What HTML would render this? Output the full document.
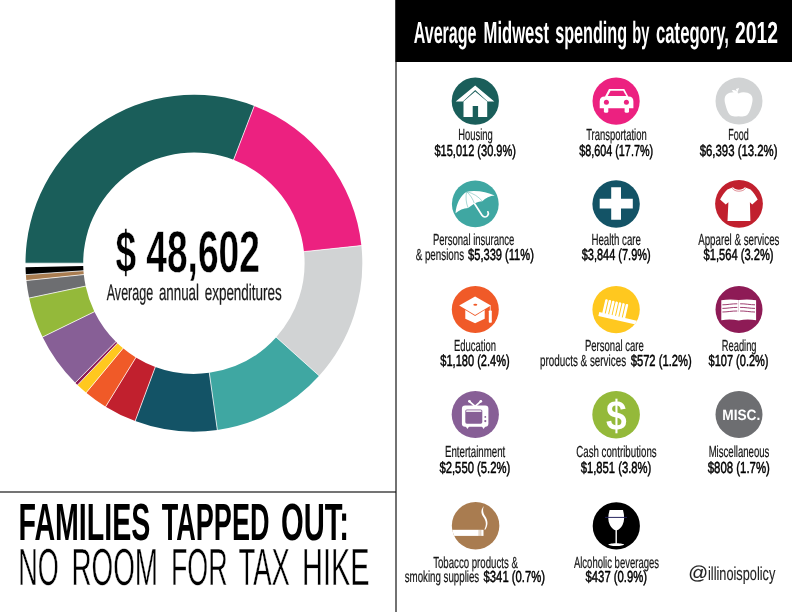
<!DOCTYPE html>
<html lang="en"><head><meta charset="utf-8"><title>Families tapped out: no room for tax hike</title>
<style>html,body{margin:0;padding:0;background:#fff}body{width:792px;height:612px;overflow:hidden}svg{display:block;will-change:transform}</style></head>
<body>
<svg width="792" height="612" viewBox="0 0 792 612" font-family="Liberation Sans, Arial, Helvetica, sans-serif" text-rendering="geometricPrecision">
<rect width="792" height="612" fill="#fff"/>
<g id="donut">
<path d="M25.50 263.20A168.4 168.4 0 0 1 254.25 105.99L233.57 159.85A110.7 110.7 0 0 0 83.20 263.20Z" fill="#1a5e5a"/>
<path d="M254.25 105.99A168.4 168.4 0 0 1 361.38 245.60L303.99 251.63A110.7 110.7 0 0 0 233.57 159.85Z" fill="#ec2180"/>
<path d="M361.38 245.60A168.4 168.4 0 0 1 319.14 375.77L276.23 337.20A110.7 110.7 0 0 0 303.99 251.63Z" fill="#d1d3d4"/>
<path d="M319.14 375.77A168.4 168.4 0 0 1 217.34 429.96L209.31 372.82A110.7 110.7 0 0 0 276.23 337.20Z" fill="#3fa7a2"/>
<path d="M217.34 429.96A168.4 168.4 0 0 1 135.20 421.04L155.31 366.96A110.7 110.7 0 0 0 209.31 372.82Z" fill="#135366"/>
<path d="M135.20 421.04A168.4 168.4 0 0 1 105.66 406.63L135.89 357.49A110.7 110.7 0 0 0 155.31 366.96Z" fill="#c1202e"/>
<path d="M105.66 406.63A168.4 168.4 0 0 1 86.22 392.67L123.11 348.31A110.7 110.7 0 0 0 135.89 357.49Z" fill="#f05a28"/>
<path d="M86.22 392.67A168.4 168.4 0 0 1 77.56 384.95L117.42 343.23A110.7 110.7 0 0 0 123.11 348.31Z" fill="#ffc81f"/>
<path d="M77.56 384.95A168.4 168.4 0 0 1 75.24 382.69L115.90 341.75A110.7 110.7 0 0 0 117.42 343.23Z" fill="#8e1b56"/>
<path d="M75.24 382.69A168.4 168.4 0 0 1 42.54 337.02L94.40 311.73A110.7 110.7 0 0 0 115.90 341.75Z" fill="#875f96"/>
<path d="M42.54 337.02A168.4 168.4 0 0 1 29.15 298.07L85.60 286.12A110.7 110.7 0 0 0 94.40 311.73Z" fill="#94b93a"/>
<path d="M29.15 298.07A168.4 168.4 0 0 1 26.39 280.51L83.79 274.58A110.7 110.7 0 0 0 85.60 286.12Z" fill="#6d6e71"/>
<path d="M26.39 280.51A168.4 168.4 0 0 1 25.89 274.65L83.46 270.73A110.7 110.7 0 0 0 83.79 274.58Z" fill="#a97c50"/>
<path d="M25.89 274.65A168.4 168.4 0 0 1 25.55 267.31L83.23 265.90A110.7 110.7 0 0 0 83.46 270.73Z" fill="#000000"/>
<path d="M83.70 263.20L25.00 263.20M233.39 160.32L254.43 105.52M303.50 251.68L361.87 245.55M275.86 336.87L319.52 376.11M209.24 372.33L217.41 430.46M155.49 366.49L135.03 421.51M136.16 357.06L105.40 407.06M123.43 347.93L85.90 393.06M117.76 342.87L77.21 385.31M116.25 341.39L74.89 383.05M94.85 311.51L42.09 337.24M86.09 286.02L28.66 298.17M84.28 274.53L25.89 280.56M83.96 270.70L25.39 274.69" stroke="#fff" stroke-width="0.75" fill="none"/>
</g>
<text x="115.41" y="271.60" font-size="58.7" font-weight="700" fill="#000" textLength="144.40" lengthAdjust="spacingAndGlyphs" stroke="#fff" stroke-width="0.45" stroke-linejoin="round">$ 48,602</text>
<text><tspan x="106.72" y="300.00" font-size="22.6" font-weight="400" fill="#1a1a1a" textLength="46.49" lengthAdjust="spacingAndGlyphs" stroke="#1a1a1a" stroke-width="0.25" stroke-linejoin="round">Average</tspan> <tspan x="158.88" y="300.00" font-size="22.6" font-weight="400" fill="#1a1a1a" textLength="40.15" lengthAdjust="spacingAndGlyphs" stroke="#1a1a1a" stroke-width="0.25" stroke-linejoin="round">annual</tspan> <tspan x="204.66" y="300.00" font-size="22.6" font-weight="400" fill="#1a1a1a" textLength="77.15" lengthAdjust="spacingAndGlyphs" stroke="#1a1a1a" stroke-width="0.25" stroke-linejoin="round">expenditures</tspan></text>
<rect x="395" y="0" width="2" height="612" fill="#727272"/>
<rect x="0" y="491" width="395" height="2" fill="#747474"/><rect x="395" y="491" width="1" height="2" fill="#3a3a3a"/>
<text><tspan x="18.50" y="540.30" font-size="52.4" font-weight="700" fill="#000" textLength="131.79" lengthAdjust="spacingAndGlyphs">FAMILIES</tspan> <tspan x="161.81" y="540.30" font-size="52.4" font-weight="700" fill="#000" textLength="107.66" lengthAdjust="spacingAndGlyphs">TAPPED</tspan> <tspan x="280.94" y="540.30" font-size="52.4" font-weight="700" fill="#000" textLength="68.09" lengthAdjust="spacingAndGlyphs">OUT:</tspan></text>
<text><tspan x="18.28" y="584.80" font-size="52.3" font-weight="400" fill="#000" textLength="40.55" lengthAdjust="spacingAndGlyphs" stroke="#fff" stroke-width="0.5" stroke-linejoin="round">NO</tspan> <tspan x="71.46" y="584.80" font-size="52.3" font-weight="400" fill="#000" textLength="86.52" lengthAdjust="spacingAndGlyphs" stroke="#fff" stroke-width="0.5" stroke-linejoin="round">ROOM</tspan> <tspan x="170.88" y="584.80" font-size="52.3" font-weight="400" fill="#000" textLength="56.72" lengthAdjust="spacingAndGlyphs" stroke="#fff" stroke-width="0.5" stroke-linejoin="round">FOR</tspan> <tspan x="238.42" y="584.80" font-size="52.3" font-weight="400" fill="#000" textLength="51.43" lengthAdjust="spacingAndGlyphs" stroke="#fff" stroke-width="0.5" stroke-linejoin="round">TAX</tspan> <tspan x="302.08" y="584.80" font-size="52.3" font-weight="400" fill="#000" textLength="67.61" lengthAdjust="spacingAndGlyphs" stroke="#fff" stroke-width="0.5" stroke-linejoin="round">HIKE</tspan></text>
<rect x="395.5" y="0" width="396.5" height="62" fill="#000"/>
<text><tspan x="413.81" y="43.20" font-size="30.6" font-weight="700" fill="#fff" textLength="62.68" lengthAdjust="spacingAndGlyphs">Average</tspan> <tspan x="483.55" y="43.20" font-size="30.6" font-weight="700" fill="#fff" textLength="65.56" lengthAdjust="spacingAndGlyphs">Midwest</tspan> <tspan x="555.22" y="43.20" font-size="30.6" font-weight="700" fill="#fff" textLength="71.93" lengthAdjust="spacingAndGlyphs">spending</tspan> <tspan x="632.30" y="43.20" font-size="30.6" font-weight="700" fill="#fff" textLength="17.09" lengthAdjust="spacingAndGlyphs">by</tspan> <tspan x="656.06" y="43.20" font-size="30.6" font-weight="700" fill="#fff" textLength="72.88" lengthAdjust="spacingAndGlyphs">category,</tspan> <tspan x="735.02" y="43.20" font-size="30.6" font-weight="700" fill="#fff" textLength="42.96" lengthAdjust="spacingAndGlyphs">2012</tspan></text>
<circle cx="475.3" cy="101.1" r="23.6" fill="#1a5e5a"/>
<path fill="#fff" d="M475.2 85.4L494.3 101.4H487.7L475.2 90.1L462.9 101.4H455.7Z"/>
<path fill="#fff" d="M475.2 91.4L487.2 101.6V116.9H478.1V106H472.7V116.9H463.5V101.6Z"/>
<circle cx="616.1" cy="101.1" r="23.6" fill="#ec2180"/>
<g fill="#fff">
<path d="M599.7 108.3V101.5Q599.7 96.4 604.7 96.4H605L609 88.9H624.3L628.3 96.4H628.6Q633.4 96.4 633.4 101.5V108.3Z"/>
<rect x="603.9" y="106" width="4.4" height="6.8" rx="1.6"/><rect x="624.6" y="106" width="4.4" height="6.8" rx="1.6"/>
</g>
<path fill="#ec2180" d="M610.6 90.8H623.2L626.3 96H607.7Z"/>
<circle cx="606.4" cy="102.2" r="2.5" fill="#ec2180"/><circle cx="626.4" cy="102.2" r="2.5" fill="#ec2180"/>
<circle cx="739.0" cy="101.1" r="23.5" fill="#d1d3d4"/>
<path fill="#fff" d="M738.6 93.4C735 91.6 729.5 92 726.6 94.6C724 97 724.4 101 725.4 104.5C726.5 108.5 727.6 112.5 729.8 114.8C732 117 735.5 116.4 738.6 116.2C741.7 116.4 745.2 117 747.4 114.8C749.6 112.5 750.7 108.5 751.8 104.500C752.8 101 753.2 97 750.6 94.6C747.7 92 742.2 91.6 738.6 93.400Z"/>
<path fill="#fff" d="M738.3 93.8C738 91.3 735.3 89.400 731.800 90C732.700 92.500 735.3 94 738.300 93.800ZM737.300 92.800L739.100 88.100L735.900 89.100Z"/>
<circle cx="475.3" cy="203.9" r="23.4" fill="#3fa7a2"/>
<path fill="#fff" d="M455.5 213.3C456.300 204.500 459.800 196 466.6 191.7C476 189.900 487 191.900 494.7 195.6C490 196 485.500 198 482.3 201.2C479.5 201.3 476.5 202.2 474.4 203.6C472.500 205 470 206.500 468.1 207.9C463.500 208 459 210 455.5 213.3Z"/>
<path fill="none" stroke="#3fa7a2" stroke-width="0.45" d="M466.6 191.7C465.500 197 466 203 468.1 207.9M466.6 191.7C470 194.500 473 199 474.4 203.6M466.6 191.7C473 193 479 197 482.3 201.2"/>
<path fill="none" stroke="#fff" stroke-width="1.7" stroke-linecap="round" d="M474.6 203.8L482 215.2C483.6 217.6 486.400 217.4 487.6 215.6C488.600 214.2 488.5 212.8 487.9 211.8"/>
<circle cx="616.1" cy="204.0" r="23.7" fill="#135366"/>
<path fill="#fff" d="M611.2 187.3H621V198.7H632.8V208.4H621V219.8H611.2V208.4H599.7V198.7H611.2Z"/>
<circle cx="739.0" cy="203.8" r="23.9" fill="#c1202e"/>
<path fill="#fff" d="M733 187.3C735 190.6 742.8 190.6 744.8 187.3L750.500 189.500C753.500 192.500 756 196 757.7 199.5L752.2 204.4L749.9 202.2L750.4 221.1H727.5L728.4 202.2L725.7 204.4L720.1 199.5C721.800 196 724.400 192.500 727.400 189.500Z"/>
<path fill="none" stroke="#c1202e" stroke-width="0.5" d="M732.2 188.200C734.500 192.2 743.300 192.2 745.600 188.200"/>
<circle cx="475.3" cy="309.5" r="23.5" fill="#f05a28"/>
<path fill="#fff" d="M475.1 296.4L490.9 305.5L475.1 315.100L459.2 305.5Z"/>
<path fill="#fff" d="M465.3 309.900L475.1 315.900L484.7 309.900V318.8L475.1 323.3L465.3 318.8Z"/>
<ellipse cx="475.3" cy="304.8" rx="2" ry="1" fill="#f05a28"/>
<path fill="none" stroke="#fff" stroke-width="0.7" d="M490.300 305.5V311"/><rect x="488.8" y="310.4" width="3" height="12.3" rx="0.8" fill="#fff"/>
<circle cx="616.1" cy="309.6" r="23.7" fill="#ffc81f"/>
<clipPath id="cc"><circle cx="616.1" cy="309.6" r="23.7"/></clipPath>
<g clip-path="url(#cc)"><g transform="rotate(13 599.2 312.4)" fill="#fff"><rect x="599.2" y="312.1" width="50" height="4.0"/><rect x="602.30" y="297.9" width="2.55" height="15" rx="1.1"/><rect x="605.80" y="297.9" width="2.55" height="15" rx="1.1"/><rect x="609.30" y="297.9" width="2.55" height="15" rx="1.1"/><rect x="612.80" y="297.9" width="2.55" height="15" rx="1.1"/><rect x="616.30" y="297.9" width="2.55" height="15" rx="1.1"/><rect x="619.80" y="297.9" width="2.55" height="15" rx="1.1"/><rect x="623.30" y="297.9" width="2.55" height="15" rx="1.1"/></g></g>
<circle cx="739.0" cy="309.5" r="23.5" fill="#8e1b56"/>
<path fill="#fff" d="M721.3 300.2C727 299.2 733 299.2 738.7 300C744.400 299.2 750.400 299.2 756.1 300.2V320.2C750.400 319.400 744.400 319.400 738.7 320.400C733 319.400 727 319.400 721.3 320.2Z"/>
<g fill="none" stroke="#8e1b56" stroke-width="0.85">
<path d="M722.4 304.8C727 304.9 732.500 303.6 737.3 303.8M740.1 303.8C745 303.6 750.500 304.9 755 304.8"/>
<path d="M722.4 308.4C727 308.5 732.500 307.2 737.3 307.4M740.1 307.4C745 307.2 750.500 308.5 755 308.4"/>
<path d="M722.4 312.0C727 312.1 732.500 310.8 737.3 311.0M740.1 311.0C745 310.8 750.500 312.1 755 312.0"/>
</g>
<path stroke="#8e1b56" stroke-width="0.35" opacity="0.7" d="M738.7 300V312"/>
<circle cx="475.3" cy="414.5" r="23.6" fill="#875f96"/>
<g fill="#fff"><rect x="461.9" y="405.6" width="26.5" height="21.1" rx="3.2"/><path d="M465.4 426H469.400L467.400 429ZM481.6 426H485.6L483.600 429Z"/></g>
<path fill="none" stroke="#fff" stroke-width="1.8" stroke-linecap="round" d="M469.4 401.3L475.100 406.400L480.8 401.3"/>
<rect x="465.3" y="409.5" width="17" height="14.2" rx="1.6" fill="#875f96"/>
<rect x="466.1" y="410.200" width="15.4" height="1.900" rx="0.9" fill="#fff" opacity="0.85"/><circle cx="469.4" cy="401.300" r="1.35" fill="#fff"/><circle cx="480.8" cy="401.300" r="1.35" fill="#fff"/>
<circle cx="485.3" cy="416.9" r="0.9" fill="#875f96"/><circle cx="485.3" cy="421.1" r="1.1" fill="#875f96"/>
<circle cx="616.1" cy="414.7" r="23.8" fill="#94b93a"/>
<text x="605.98" y="430.20" font-size="42" font-weight="700" fill="#fff" textLength="20.70" lengthAdjust="spacingAndGlyphs" >$</text>
<circle cx="739.0" cy="414.5" r="23.5" fill="#6d6e71"/>
<text x="722.24" y="419.80" font-size="15" font-weight="700" fill="#fff" textLength="38.10" lengthAdjust="spacingAndGlyphs" >MISC.</text>
<circle cx="475.6" cy="525.6999999999999" r="23.75" fill="#a97c50"/>
<clipPath id="ct"><circle cx="475.6" cy="525.6999999999999" r="23.75"/></clipPath>
<rect x="450" y="529.8" width="33.5" height="6.1" fill="#fff" clip-path="url(#ct)"/>
<path stroke="#a97c50" stroke-width="0.5" d="M479.1 529.8V536M480.8 529.8V536"/>
<path fill="#fff" d="M483.9 506C480.6 509.600 480.800 513.400 483.2 516.800C485.500 520.200 487.200 523.600 484.300 529.600L485.300 529.700C488.600 524.200 487.800 520.200 485.200 516.200C483.100 512.900 482.300 509.800 483.900 506Z"/>
<circle cx="616.3000000000001" cy="525.9" r="23.6" fill="#000000"/>
<path fill="#fff" d="M609.6 510H623C624.600 516 624.600 521 622.5 525C621 528 618.800 529.800 616.9 530.200V543.2C620.500 543.300 624 543.800 624 544.600C624 545.500 620.500 546.100 616.2 546.100C611.900 546.100 608.4 545.500 608.4 544.600C608.4 543.800 611.900 543.300 615.500 543.200V530.200C613.600 529.800 611.400 528 609.900 525C607.800 521 607.800 516 609.600 510Z"/>
<path stroke="#25245f" stroke-width="1" d="M605.1 517.4H627"/>
<text x="458.28" y="140.30" font-size="16.0" font-weight="400" fill="#151515" textLength="34.45" lengthAdjust="spacingAndGlyphs" stroke="#151515" stroke-width="0.22" stroke-linejoin="round">Housing</text>
<text x="434.46" y="155.60" font-size="16.0" font-weight="400" fill="#000" textLength="81.49" lengthAdjust="spacingAndGlyphs" stroke="#000" stroke-width="0.5" stroke-linejoin="round">$15,012 (30.9%)</text>
<text x="586.15" y="140.30" font-size="16.0" font-weight="400" fill="#151515" textLength="60.52" lengthAdjust="spacingAndGlyphs" stroke="#151515" stroke-width="0.22" stroke-linejoin="round">Transportation</text>
<text x="579.16" y="155.60" font-size="16.0" font-weight="400" fill="#000" textLength="73.97" lengthAdjust="spacingAndGlyphs" stroke="#000" stroke-width="0.5" stroke-linejoin="round">$8,604 (17.7%)</text>
<text x="728.23" y="140.30" font-size="16.0" font-weight="400" fill="#151515" textLength="20.41" lengthAdjust="spacingAndGlyphs" stroke="#151515" stroke-width="0.22" stroke-linejoin="round">Food</text>
<text x="699.74" y="155.60" font-size="16.0" font-weight="400" fill="#000" textLength="77.69" lengthAdjust="spacingAndGlyphs" stroke="#000" stroke-width="0.5" stroke-linejoin="round">$6,393 (13.2%)</text>
<text x="432.99" y="244.50" font-size="16.0" font-weight="400" fill="#151515" textLength="81.42" lengthAdjust="spacingAndGlyphs" stroke="#151515" stroke-width="0.22" stroke-linejoin="round">Personal insurance</text>
<text><tspan x="415.65" y="260.00" font-size="16.0" font-weight="400" fill="#151515" textLength="48.47" lengthAdjust="spacingAndGlyphs" stroke="#151515" stroke-width="0.22" stroke-linejoin="round">&amp; pensions</tspan> <tspan x="468.08" y="260.00" font-size="16.0" font-weight="400" fill="#000" textLength="65.76" lengthAdjust="spacingAndGlyphs" stroke="#000" stroke-width="0.5" stroke-linejoin="round">$5,339 (11%)</tspan></text>
<text x="591.43" y="244.50" font-size="16.0" font-weight="400" fill="#151515" textLength="49.52" lengthAdjust="spacingAndGlyphs" stroke="#151515" stroke-width="0.22" stroke-linejoin="round">Health care</text>
<text x="581.75" y="260.00" font-size="16.0" font-weight="400" fill="#000" textLength="68.88" lengthAdjust="spacingAndGlyphs" stroke="#000" stroke-width="0.5" stroke-linejoin="round">$3,844 (7.9%)</text>
<text x="698.14" y="244.50" font-size="16.0" font-weight="400" fill="#151515" textLength="81.31" lengthAdjust="spacingAndGlyphs" stroke="#151515" stroke-width="0.22" stroke-linejoin="round">Apparel &amp; services</text>
<text x="703.52" y="260.00" font-size="16.0" font-weight="400" fill="#000" textLength="69.98" lengthAdjust="spacingAndGlyphs" stroke="#000" stroke-width="0.5" stroke-linejoin="round">$1,564 (3.2%)</text>
<text x="454.03" y="350.60" font-size="16.0" font-weight="400" fill="#151515" textLength="41.99" lengthAdjust="spacingAndGlyphs" stroke="#151515" stroke-width="0.22" stroke-linejoin="round">Education</text>
<text x="440.34" y="366.20" font-size="16.0" font-weight="400" fill="#000" textLength="69.41" lengthAdjust="spacingAndGlyphs" stroke="#000" stroke-width="0.5" stroke-linejoin="round">$1,180 (2.4%)</text>
<text x="584.99" y="350.60" font-size="16.0" font-weight="400" fill="#151515" textLength="58.70" lengthAdjust="spacingAndGlyphs" stroke="#151515" stroke-width="0.22" stroke-linejoin="round">Personal care</text>
<text><tspan x="540.09" y="366.20" font-size="16.0" font-weight="400" fill="#151515" textLength="85.98" lengthAdjust="spacingAndGlyphs" stroke="#151515" stroke-width="0.22" stroke-linejoin="round">products &amp; services</tspan> <tspan x="630.66" y="366.20" font-size="16.0" font-weight="400" fill="#000" textLength="61.09" lengthAdjust="spacingAndGlyphs" stroke="#000" stroke-width="0.5" stroke-linejoin="round">$572 (1.2%)</tspan></text>
<text x="721.83" y="350.60" font-size="16.0" font-weight="400" fill="#151515" textLength="34.72" lengthAdjust="spacingAndGlyphs" stroke="#151515" stroke-width="0.22" stroke-linejoin="round">Reading</text>
<text x="708.59" y="366.20" font-size="16.0" font-weight="400" fill="#000" textLength="59.95" lengthAdjust="spacingAndGlyphs" stroke="#000" stroke-width="0.5" stroke-linejoin="round">$107 (0.2%)</text>
<text x="444.96" y="457.00" font-size="16.0" font-weight="400" fill="#151515" textLength="60.32" lengthAdjust="spacingAndGlyphs" stroke="#151515" stroke-width="0.22" stroke-linejoin="round">Entertainment</text>
<text x="439.47" y="472.60" font-size="16.0" font-weight="400" fill="#000" textLength="70.74" lengthAdjust="spacingAndGlyphs" stroke="#000" stroke-width="0.5" stroke-linejoin="round">$2,550 (5.2%)</text>
<text x="576.24" y="457.00" font-size="16.0" font-weight="400" fill="#151515" textLength="80.40" lengthAdjust="spacingAndGlyphs" stroke="#151515" stroke-width="0.22" stroke-linejoin="round">Cash contributions</text>
<text x="580.65" y="472.60" font-size="16.0" font-weight="400" fill="#000" textLength="70.71" lengthAdjust="spacingAndGlyphs" stroke="#000" stroke-width="0.5" stroke-linejoin="round">$1,851 (3.8%)</text>
<text x="708.63" y="457.00" font-size="16.0" font-weight="400" fill="#151515" textLength="60.79" lengthAdjust="spacingAndGlyphs" stroke="#151515" stroke-width="0.22" stroke-linejoin="round">Miscellaneous</text>
<text x="707.72" y="472.60" font-size="16.0" font-weight="400" fill="#000" textLength="62.21" lengthAdjust="spacingAndGlyphs" stroke="#000" stroke-width="0.5" stroke-linejoin="round">$808 (1.7%)</text>
<text x="433.17" y="567.50" font-size="16.0" font-weight="400" fill="#151515" textLength="84.68" lengthAdjust="spacingAndGlyphs" stroke="#151515" stroke-width="0.22" stroke-linejoin="round">Tobacco products &amp;</text>
<text><tspan x="404.68" y="582.40" font-size="16.0" font-weight="400" fill="#151515" textLength="74.55" lengthAdjust="spacingAndGlyphs" stroke="#151515" stroke-width="0.22" stroke-linejoin="round">smoking supplies</tspan> <tspan x="483.56" y="582.40" font-size="16.0" font-weight="400" fill="#000" textLength="61.49" lengthAdjust="spacingAndGlyphs" stroke="#000" stroke-width="0.5" stroke-linejoin="round">$341 (0.7%)</tspan></text>
<text x="573.89" y="567.50" font-size="16.0" font-weight="400" fill="#151515" textLength="85.14" lengthAdjust="spacingAndGlyphs" stroke="#151515" stroke-width="0.22" stroke-linejoin="round">Alcoholic beverages</text>
<text x="585.56" y="582.40" font-size="16.0" font-weight="400" fill="#000" textLength="61.49" lengthAdjust="spacingAndGlyphs" stroke="#000" stroke-width="0.5" stroke-linejoin="round">$437 (0.9%)</text>
<text><tspan x="688.24" y="578.90" font-size="18.8" font-weight="400" fill="#222" textLength="19.88" lengthAdjust="spacingAndGlyphs" stroke="#222" stroke-width="0.1" stroke-linejoin="round">@</tspan><tspan x="707.99" y="580.20" font-size="18.8" font-weight="400" fill="#222" textLength="67.32" lengthAdjust="spacingAndGlyphs" stroke="#222" stroke-width="0.1" stroke-linejoin="round">illinoispolicy</tspan></text>
</svg>
</body></html>
